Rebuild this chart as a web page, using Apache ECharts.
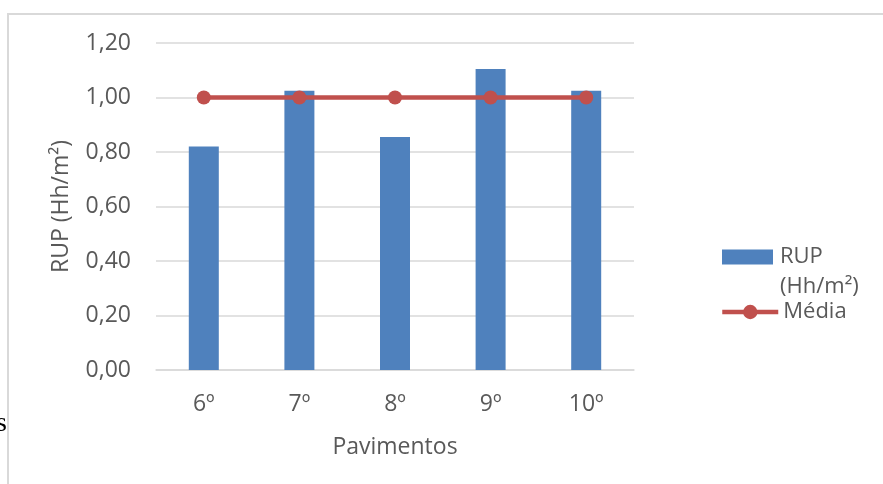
<!DOCTYPE html>
<html>
<head>
<meta charset="utf-8">
<script src="https://cdn.jsdelivr.net/npm/echarts@6/dist/echarts.min.js"></script>
<style>
  html, body { margin: 0; padding: 0; background: #fff; }
  #chart { width: 883px; height: 484px; }
</style>
</head>
<body>
<div id="chart"></div>
<script>
// pavimentos (x axis)
const categories = ['6º', '7º', '8º', '9º', '10º']
// RUP por pavimento
const rupValues = [0.82, 1.025, 0.855, 1.105, 1.025]
// média
const mediaValues = [1.0, 1.0, 1.0, 1.0, 1.0]

const textColor = '#595959'
const gridColor = '#d9d9d9'
const fontFamily = '"Open Sans", "DejaVu Sans", sans-serif'
const fontSize = 23

const chart = echarts.init(document.getElementById('chart'))

chart.setOption({
  animation: false,
  backgroundColor: '#fff',
  textStyle: { fontFamily: fontFamily },
  grid: {
    left: 156,
    right: 249,
    top: 43,
    bottom: 114
  },
  legend: [{
    // RUP legend: blank first line so the rect lines up with "RUP"
    orient: 'vertical',
    left: 722,
    top: 212,
    padding: 0,
    icon: 'rect',
    itemWidth: 51,
    itemHeight: 15,
    data: ['RUP (Hh/m²)'],
    formatter: () => ' \nRUP\n(Hh/m²)',
    textStyle: { color: textColor, fontSize: 22, lineHeight: 30, padding: [0, 0, 0, 2] }
  }, {
    orient: 'vertical',
    left: 720,
    top: 297,
    padding: 0,
    itemWidth: 56,
    itemHeight: 18,
    lineStyle: { width: 4.5 },
    data: ['Média'],
    textStyle: { color: textColor, fontSize: 22, lineHeight: 30 }
  }],
  xAxis: {
    type: 'category',
    data: categories,
    axisTick: { show: false },
    axisLine: { lineStyle: { color: gridColor, width: 1.5 } },
    axisLabel: { color: textColor, fontSize: fontSize, margin: 23 },
    name: 'Pavimentos',
    nameLocation: 'middle',
    nameGap: 66,
    nameTextStyle: { color: textColor, fontSize: fontSize }
  },
  yAxis: {
    type: 'value',
    min: 0,
    max: 1.2,
    interval: 0.2,
    axisLine: { show: false },
    axisTick: { show: false },
    splitLine: { lineStyle: { color: gridColor, width: 1.5 } },
    axisLabel: {
      color: textColor,
      fontSize: fontSize,
      margin: 25,
      formatter: v => v.toFixed(2).replace('.', ',')
    },
    name: 'RUP (Hh/m²)',
    nameLocation: 'middle',
    nameGap: 83,
    nameTextStyle: { color: textColor, fontSize: fontSize }
  },
  series: [{
    name: 'RUP (Hh/m²)',
    type: 'bar',
    barWidth: 30,
    itemStyle: { color: '#4f81bd' },
    data: rupValues
  }, {
    name: 'Média',
    type: 'line',
    symbol: 'circle',
    symbolSize: 14,
    lineStyle: { color: '#c0504d', width: 4.5 },
    itemStyle: { color: '#c0504d' },
    data: mediaValues
  }],
  graphic: [{
    // page border around the figure
    type: 'rect',
    shape: { x: 8, y: 14, width: 900, height: 500 },
    style: { fill: 'none', stroke: '#d9d9d9', lineWidth: 2 },
    silent: true
  }, {
    type: 'text',
    left: -4,
    top: 410,
    style: {
      text: 's',
      font: '28px "Liberation Serif", serif',
      fill: '#000'
    },
    silent: true
  }]
})
</script>
</body>
</html>
